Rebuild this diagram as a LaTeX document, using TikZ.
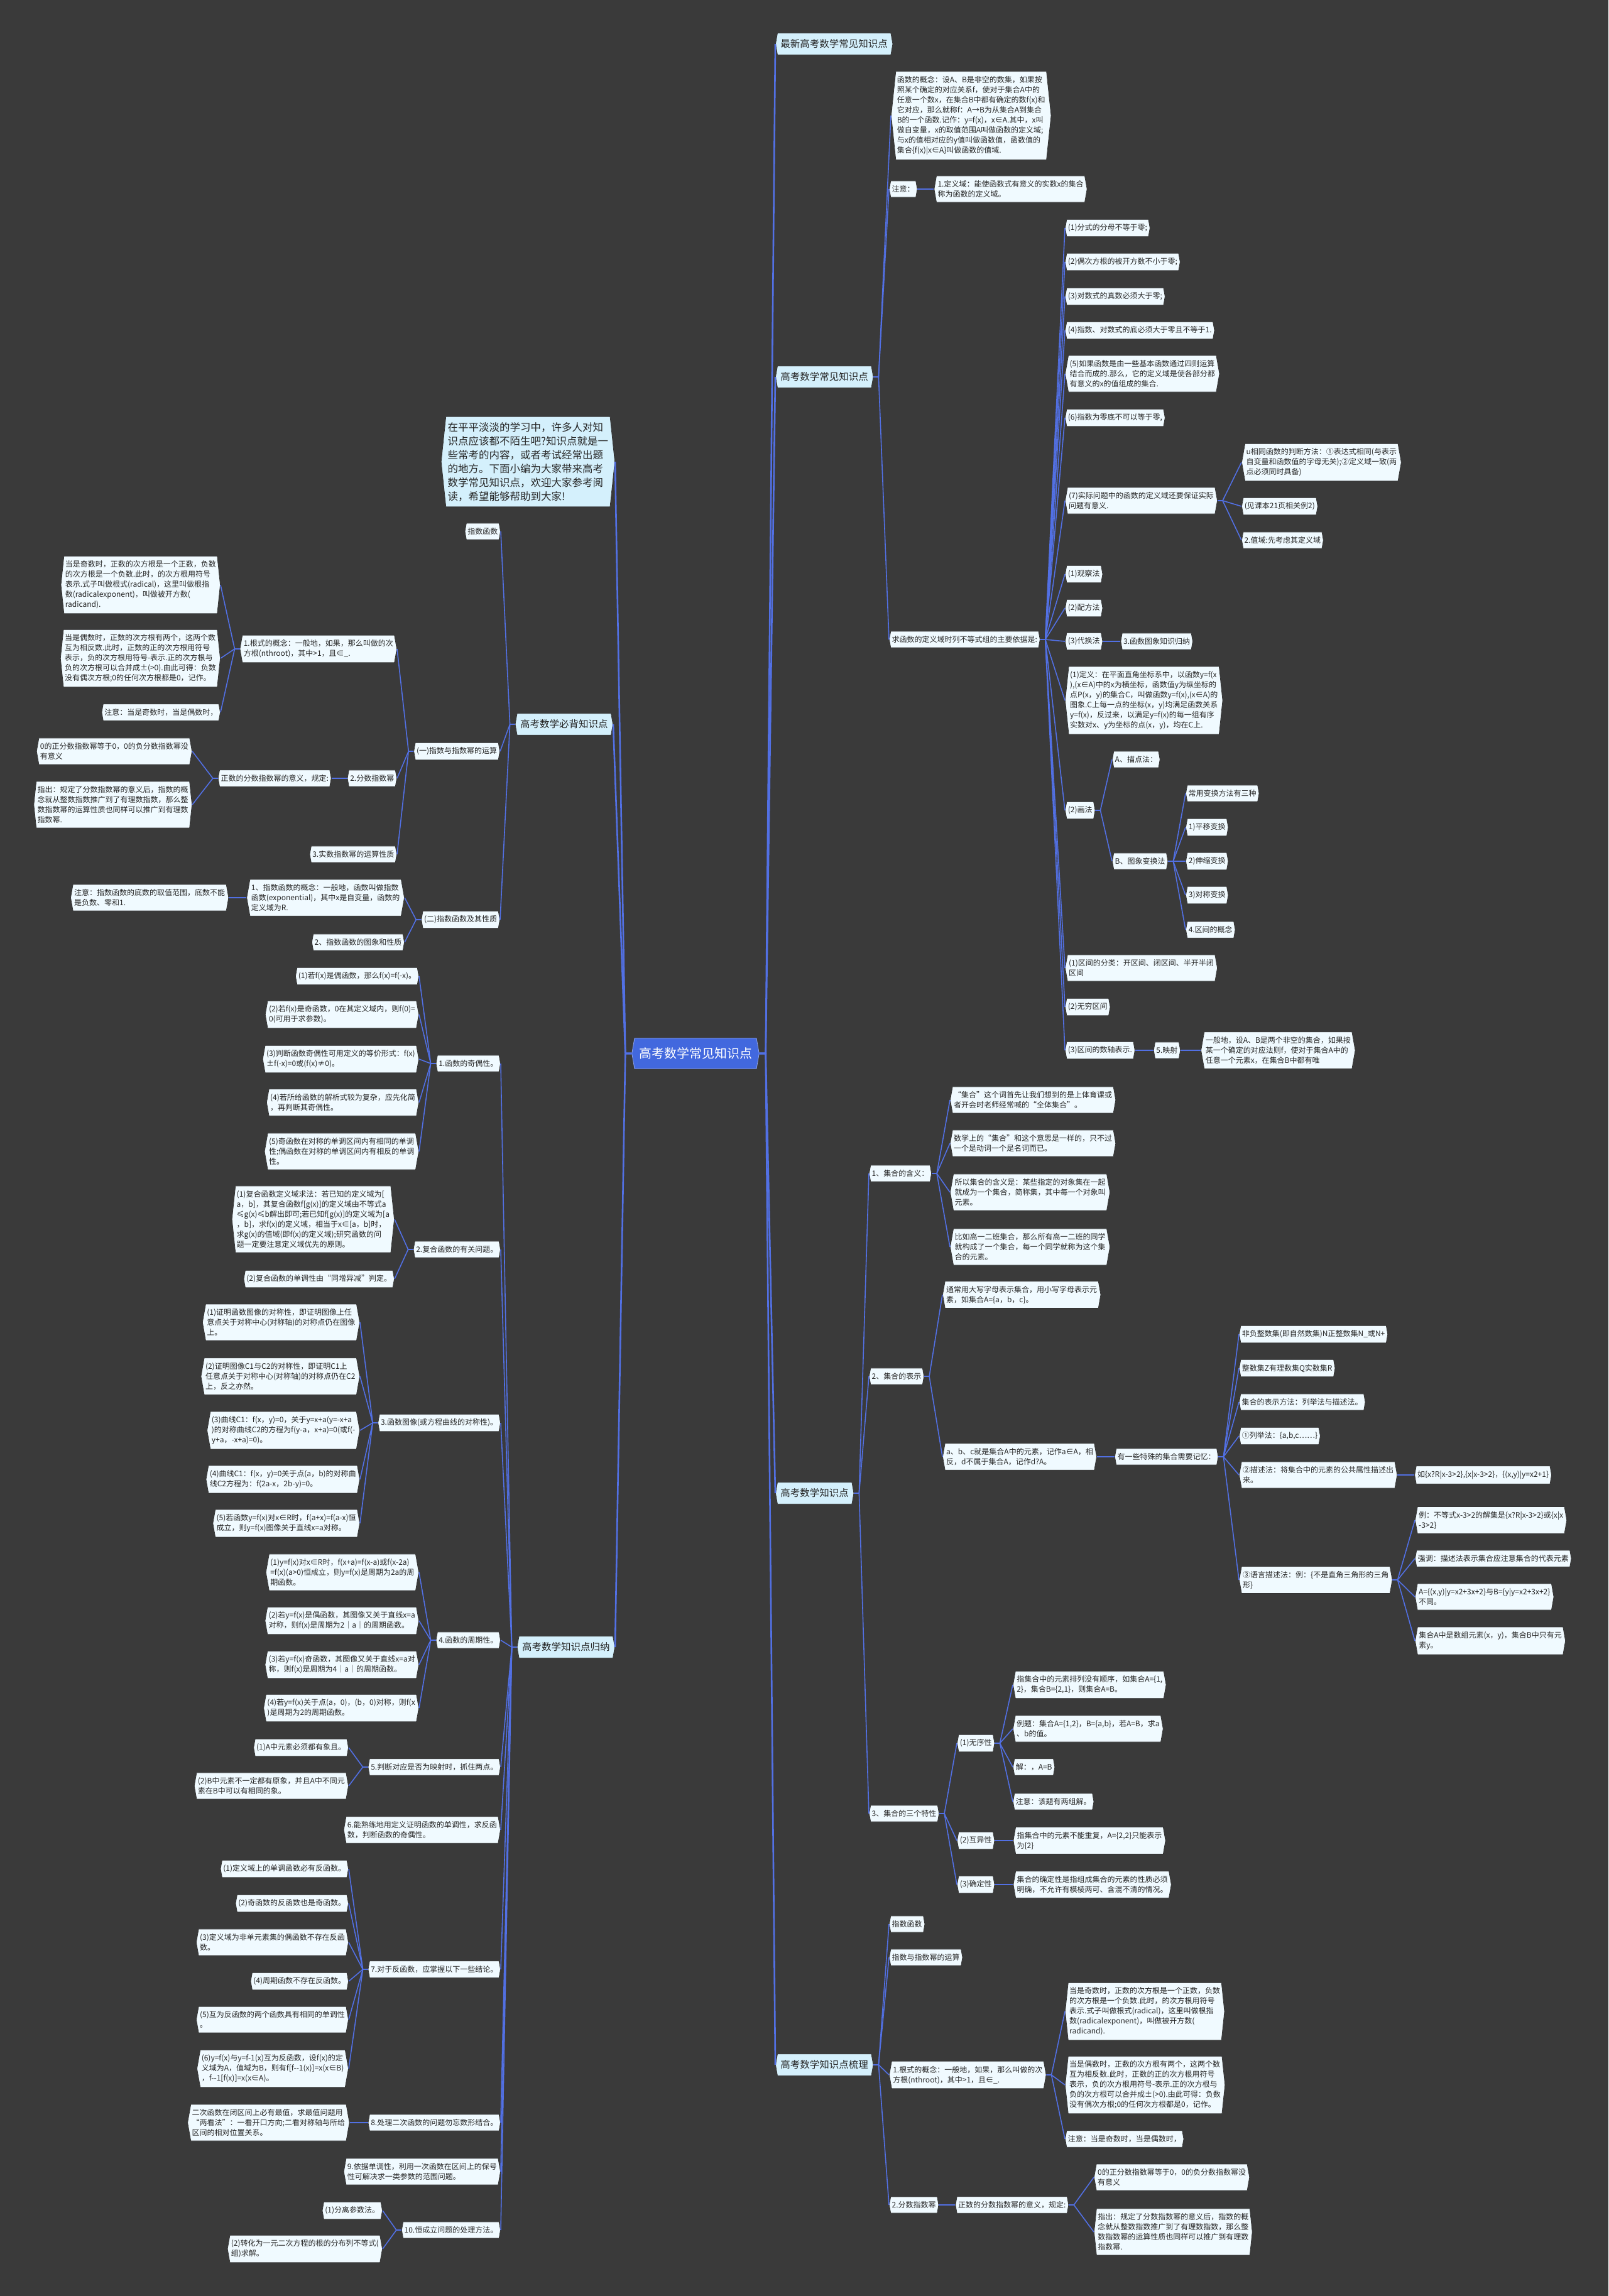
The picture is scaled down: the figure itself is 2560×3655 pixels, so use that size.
\documentclass[tikz,border=0pt]{standalone}
\usepackage{fontspec}
\setmainfont{Noto Sans CJK SC}
\usepackage{xcolor}
\usetikzlibrary{positioning,shapes.symbols}

\definecolor{bgcol}{RGB}{58,58,58}
\definecolor{leafbg}{RGB}{240,250,255}
\definecolor{topicbg}{RGB}{212,240,252}
\definecolor{rootbg}{RGB}{66,104,222}
\definecolor{linkcol}{RGB}{82,112,228}

\tikzset{
  box/.style={signal, signal to=west and east, signal pointer angle=160,
    draw=black!80, line width=0.8pt, align=left},
  leaf/.style={box, fill=leafbg, text=black!85,
    font=\fontsize{12}{16}\selectfont, inner xsep=2pt, inner ysep=7.5pt},
  tall/.style={signal pointer angle=168},
  topic/.style={box, fill=topicbg, text=black!85,
    font=\fontsize{15.5}{20}\selectfont, inner xsep=5pt, inner ysep=10pt},
  root/.style={box, fill=rootbg, text=white, draw=rootbg!60!white,
    font=\fontsize{20}{24}\selectfont, inner xsep=7pt, inner ysep=15pt},
  link/.style={draw=linkcol, line width=1.6pt},
  trunk/.style={draw=linkcol, line width=2.6pt},
}

\begin{document}
\begin{tikzpicture}[x=1pt, y=-1pt]
\fill[bgcol] (0,0) rectangle (2560,3655);

% centre
\node[root] (ctr) at (1107,1677) {高考数学常见知识点};

% ---- right side ----
\node[topic, anchor=west] (rA) at (1234,70) {最新高考数学常见知识点};
\node[topic, anchor=west] (rB) at (1234,600) {高考数学常见知识点};
\node[topic, anchor=west] (rC) at (1234,2377) {高考数学知识点};
\node[topic, anchor=west] (rD) at (1234,3287) {高考数学知识点梳理};

\begin{scope}[every node/.style={leaf, anchor=west}]
% 高考数学常见知识点
\node[tall] (bDef) at (1418,184) {函数的概念：设A、B是非空的数集，如果按\\照某个确定的对应关系f，使对于集合A中的\\任意一个数x，在集合B中都有确定的数f(x)和\\它对应，那么就称f：A→B为从集合A到集合\\B的一个函数.记作：y=f(x)，x∈A.其中，x叫\\做自变量，x的取值范围A叫做函数的定义域;\\与x的值相对应的y值叫做函数值，函数值的\\集合\{f(x)|x∈A\}叫做函数的值域.};
\node (bNote) at (1415,301) {注意：};
\node[right=26pt of bNote] (bNoteA) {1.定义域：能使函数式有意义的实数x的集合\\称为函数的定义域。};
\node (bReq) at (1415,1018) {求函数的定义域时列不等式组的主要依据是:};
\node (bR1) at (1695,363) {(1)分式的分母不等于零;};
\node (bR2) at (1695,417) {(2)偶次方根的被开方数不小于零;};
\node (bR3) at (1695,472) {(3)对数式的真数必须大于零;};
\node (bR4) at (1695,526) {(4)指数、对数式的底必须大于零且不等于1.};
\node (bR5) at (1695,595) {(5)如果函数是由一些基本函数通过四则运算\\结合而成的.那么，它的定义域是使各部分都\\有意义的x的值组成的集合.};
\node (bR6) at (1695,665) {(6)指数为零底不可以等于零,};
\node (bR7) at (1695,797) {(7)实际问题中的函数的定义域还要保证实际\\问题有意义.};
\node (bU) at (1976,736) {u相同函数的判断方法：①表达式相同(与表示\\自变量和函数值的字母无关);②定义域一致(两\\点必须同时具备)};
\node (bEx) at (1976,806) {(见课本21页相关例2)};
\node (bRange) at (1976,860) {2.值域:先考虑其定义域};
\node (bObs) at (1695,914) {(1)观察法};
\node (bSq) at (1695,968) {(2)配方法};
\node (bSub) at (1695,1021) {(3)代换法};
\node[right=28pt of bSub] (bSubA) {3.函数图象知识归纳};
\node[tall] (bGdef) at (1695,1115) {(1)定义：在平面直角坐标系中，以函数y=f(x\\),(x∈A)中的x为横坐标，函数值y为纵坐标的\\点P(x，y)的集合C，叫做函数y=f(x),(x∈A)的\\图象.C上每一点的坐标(x，y)均满足函数关系\\y=f(x)，反过来，以满足y=f(x)的每一组有序\\实数对x、y为坐标的点(x，y)，均在C上.};
\node (bDraw) at (1695,1290) {(2)画法};
\node (bDrawA) at (1770,1209) {A、描点法：};
\node (bDrawB) at (1770,1371) {B、图象变换法};
\node (bT0) at (1887,1263) {常用变换方法有三种};
\node (bT1) at (1887,1317) {1)平移变换};
\node (bT2) at (1887,1371) {2)伸缩变换};
\node (bT3) at (1887,1425) {3)对称变换};
\node (bT4) at (1887,1480) {4.区间的概念};
\node (bIv1) at (1695,1541) {(1)区间的分类：开区间、闭区间、半开半闭\\区间};
\node (bIv2) at (1695,1603) {(2)无穷区间};
\node (bIv3) at (1695,1672) {(3)区间的数轴表示.};
\node[right=29pt of bIv3] (bMap) {5.映射};
\node[right=32pt of bMap] (bMapA) {一般地，设A、B是两个非空的集合，如果按\\某一个确定的对应法则f，使对于集合A中的\\任意一个元素x，在集合B中都有唯};

% 高考数学知识点
\node (cMean) at (1383,1868) {1、集合的含义：};
\node (cM1) at (1512,1751) {“集合”这个词首先让我们想到的是上体育课或\\者开会时老师经常喊的“全体集合”。};
\node (cM2) at (1512,1820) {数学上的“集合”和这个意思是一样的，只不过\\一个是动词一个是名词而已。};
\node (cM3) at (1512,1898) {所以集合的含义是：某些指定的对象集在一起\\就成为一个集合，简称集，其中每一个对象叫\\元素。};
\node (cM4) at (1512,1985) {比如高一二班集合，那么所有高一二班的同学\\就构成了一个集合，每一个同学就称为这个集\\合的元素。};
\node (cRep) at (1383,2191) {2、集合的表示};
\node (cRep1) at (1500,2061) {通常用大写字母表示集合，用小写字母表示元\\素，如集合A=\{a，b，c\}。};
\node (cRep2) at (1500,2319) {a、b、c就是集合A中的元素，记作a∈A，相\\反，d不属于集合A，记作d?A。};
\node[right=28pt of cRep2] (cSpec) {有一些特殊的集合需要记忆：};
\node (cS1) at (1972,2124) {非负整数集(即自然数集)N正整数集N\_或N+};
\node (cS2) at (1972,2178) {整数集Z有理数集Q实数集R};
\node (cS3) at (1972,2232) {集合的表示方法：列举法与描述法。};
\node (cS4) at (1972,2286) {①列举法：\{a,b,c……\}};
\node (cS5) at (1972,2348) {②描述法：将集合中的元素的公共属性描述出\\来。};
\node[right=27pt of cS5] (cS5a) {如\{x?R|x-3>2\},\{x|x-3>2\}，\{(x,y)|y=x2+1\}};
\node (cS6) at (1972,2515) {③语言描述法：例：\{不是直角三角形的三角\\形\}};
\node (cS6a) at (2252,2420) {例：不等式x-3>2的解集是\{x?R|x-3>2\}或\{x|x\\-3>2\}};
\node (cS6b) at (2252,2481) {强调：描述法表示集合应注意集合的代表元素};
\node (cS6c) at (2252,2542) {A=\{(x,y)|y=x2+3x+2\}与B=\{y|y=x2+3x+2\}\\不同。};
\node (cS6d) at (2252,2612) {集合A中是数组元素(x，y)，集合B中只有元\\素y。};
\node (cTri) at (1383,2887) {3、集合的三个特性};
\node (cT1) at (1523,2775) {(1)无序性};
\node (cT1a) at (1612,2682) {指集合中的元素排列没有顺序，如集合A=\{1,\\2\}，集合B=\{2,1\}，则集合A=B。};
\node (cT1b) at (1612,2752) {例题：集合A=\{1,2\}，B=\{a,b\}，若A=B，求a\\、b的值。};
\node (cT1c) at (1612,2813) {解：，A=B};
\node (cT1d) at (1612,2868) {注意：该题有两组解。};
\node (cT2) at (1523,2930) {(2)互异性};
\node[right=29pt of cT2] (cT2a) {指集合中的元素不能重复，A=\{2,2\}只能表示\\为\{2\}};
\node (cT3) at (1523,3000) {(3)确定性};
\node[right=29pt of cT3] (cT3a) {集合的确定性是指组成集合的元素的性质必须\\明确，不允许有模棱两可、含混不清的情况。};

% 高考数学知识点梳理
\node (dExp) at (1415,3063) {指数函数};
\node (dOp) at (1415,3116) {指数与指数幂的运算};
\node (dRoot) at (1415,3303) {1.根式的概念：一般地，如果，那么叫做的次\\方根(nthroot)，其中>1，且∈\_.};
\node[tall] (dRoot1) at (1695,3202) {当是奇数时，正数的次方根是一个正数，负数\\的次方根是一个负数.此时，的次方根用符号\\表示.式子叫做根式(radical)，这里叫做根指\\数(radicalexponent)，叫做被开方数(\\radicand).};
\node[tall] (dRoot2) at (1695,3319) {当是偶数时，正数的次方根有两个，这两个数\\互为相反数.此时，正数的正的次方根用符号\\表示，负的次方根用符号-表示.正的次方根与\\负的次方根可以合并成±(>0).由此可得：负数\\没有偶次方根;0的任何次方根都是0，记作。};
\node (dRoot3) at (1695,3405) {注意：当是奇数时，当是偶数时，};
\node (dFrac) at (1415,3510) {2.分数指数幂};
\node[right=26pt of dFrac] (dFracA) {正数的分数指数幂的意义，规定:};
\node (dFracA1) at (1741,3466) {0的正分数指数幂等于0，0的负分数指数幂没\\有意义};
\node[tall] (dFracA2) at (1741,3553) {指出：规定了分数指数幂的意义后，指数的概\\念就从整数指数推广到了有理数指数，那么整\\数指数幂的运算性质也同样可以推广到有理数\\指数幂.};
\end{scope}

% ---- left side ----
\node[topic, tall, anchor=east, font=\fontsize{16.5}{22}\selectfont, inner xsep=3pt, inner ysep=9pt] (lIntro) at (979,735) {在平平淡淡的学习中，许多人对知\\识点应该都不陌生吧?知识点就是一\\些常考的内容，或者考试经常出题\\的地方。下面小编为大家带来高考\\数学常见知识点，欢迎大家参考阅\\读，希望能够帮助到大家!};
\node[topic, anchor=east] (lA) at (976,1153) {高考数学必背知识点};
\node[topic, anchor=east] (lB) at (979,2622) {高考数学知识点归纳};

\begin{scope}[every node/.style={leaf, anchor=east}]
% 高考数学必背知识点
\node (aExp) at (797,846) {指数函数};
\node (aOp) at (796,1196) {(一)指数与指数幂的运算};
\node (aRoot) at (632,1033) {1.根式的概念：一般地，如果，那么叫做的次\\方根(nthroot)，其中>1，且∈\_.};
\node[tall] (aRoot1) at (351,931) {当是奇数时，正数的次方根是一个正数，负数\\的次方根是一个负数.此时，的次方根用符号\\表示.式子叫做根式(radical)，这里叫做根指\\数(radicalexponent)，叫做被开方数(\\radicand).};
\node[tall] (aRoot2) at (351,1048) {当是偶数时，正数的次方根有两个，这两个数\\互为相反数.此时，正数的正的次方根用符号\\表示，负的次方根用符号-表示.正的次方根与\\负的次方根可以合并成±(>0).由此可得：负数\\没有偶次方根;0的任何次方根都是0，记作。};
\node (aRoot3) at (351,1134) {注意：当是奇数时，当是偶数时，};
\node (aFrac) at (632,1239) {2.分数指数幂};
\node[left=25pt of aFrac] (aFracA) {正数的分数指数幂的意义，规定:};
\node (aFracA1) at (306,1196) {0的正分数指数幂等于0，0的负分数指数幂没\\有意义};
\node[tall] (aFracA2) at (306,1281) {指出：规定了分数指数幂的意义后，指数的概\\念就从整数指数推广到了有理数指数，那么整\\数指数幂的运算性质也同样可以推广到有理数\\指数幂.};
\node (aReal) at (632,1360) {3.实数指数幂的运算性质};
\node (aFun) at (796,1464) {(二)指数函数及其性质};
\node (aFun1) at (644,1429) {1、指数函数的概念：一般地，函数叫做指数\\函数(exponential)，其中x是自变量，函数的\\定义域为R.};
\node[left=28pt of aFun1] (aFun1a) {注意：指数函数的底数的取值范围，底数不能\\是负数、零和1.};
\node (aFun2) at (644,1500) {2、指数函数的图象和性质};

% 高考数学知识点归纳
\node (g1) at (797,1693) {1.函数的奇偶性。};
\node (g1a) at (667,1554) {(1)若f(x)是偶函数，那么f(x)=f(-x)。};
\node (g1b) at (667,1615) {(2)若f(x)是奇函数，0在其定义域内，则f(0)=\\0(可用于求参数)。};
\node (g1c) at (667,1686) {(3)判断函数奇偶性可用定义的等价形式：f(x)\\±f(-x)=0或(f(x)≠0)。};
\node (g1d) at (667,1755) {(4)若所给函数的解析式较为复杂，应先化简\\，再判断其奇偶性。};
\node (g1e) at (667,1833) {(5)奇函数在对称的单调区间内有相同的单调\\性;偶函数在对称的单调区间内有相反的单调\\性。};
\node (g2) at (797,1989) {2.复合函数的有关问题。};
\node[tall] (g2a) at (628,1941) {(1)复合函数定义域求法：若已知的定义域为[\\a，b]，其复合函数f[g(x)]的定义域由不等式a\\≤g(x)≤b解出即可;若已知f[g(x)]的定义域为[a\\，b]，求f(x)的定义域，相当于x∈[a，b]时，\\求g(x)的值域(即f(x)的定义域);研究函数的问\\题一定要注意定义域优先的原则。};
\node (g2b) at (628,2036) {(2)复合函数的单调性由“同增异减”判定。};
\node (g3) at (797,2265) {3.函数图像(或方程曲线的对称性)。};
\node (g3a) at (573,2105) {(1)证明函数图像的对称性，即证明图像上任\\意点关于对称中心(对称轴)的对称点仍在图像\\上。};
\node (g3b) at (573,2191) {(2)证明图像C1与C2的对称性，即证明C1上\\任意点关于对称中心(对称轴)的对称点仍在C2\\上，反之亦然。};
\node (g3c) at (573,2277) {(3)曲线C1：f(x，y)=0，关于y=x+a(y=-x+a\\)的对称曲线C2的方程为f(y-a，x+a)=0(或f(-\\y+a，-x+a)=0)。};
\node (g3d) at (573,2355) {(4)曲线C1：f(x，y)=0关于点(a，b)的对称曲\\线C2方程为：f(2a-x，2b-y)=0。};
\node (g3e) at (573,2425) {(5)若函数y=f(x)对x∈R时，f(a+x)=f(a-x)恒\\成立，则y=f(x)图像关于直线x=a对称。};
\node (g4) at (797,2611) {4.函数的周期性。};
\node (g4a) at (667,2503) {(1)y=f(x)对x∈R时，f(x+a)=f(x-a)或f(x-2a)\\=f(x)(a>0)恒成立，则y=f(x)是周期为2a的周\\期函数。};
\node (g4b) at (667,2580) {(2)若y=f(x)是偶函数，其图像又关于直线x=a\\对称，则f(x)是周期为2｜a｜的周期函数。};
\node (g4c) at (667,2650) {(3)若y=f(x)奇函数，其图像又关于直线x=a对\\称，则f(x)是周期为4｜a｜的周期函数。};
\node (g4d) at (667,2719) {(4)若y=f(x)关于点(a，0)，(b，0)对称，则f(x\\)是周期为2的周期函数。};
\node (g5) at (797,2813) {5.判断对应是否为映射时，抓住两点。};
\node (g5a) at (555,2782) {(1)A中元素必须都有象且。};
\node (g5b) at (555,2843) {(2)B中元素不一定都有原象，并且A中不同元\\素在B中可以有相同的象。};
\node (g6) at (797,2913) {6.能熟练地用定义证明函数的单调性，求反函\\数，判断函数的奇偶性。};
\node (g7) at (797,3135) {7.对于反函数，应掌握以下一些结论。};
\node (g7a) at (555,2975) {(1)定义域上的单调函数必有反函数。};
\node (g7b) at (555,3030) {(2)奇函数的反函数也是奇函数。};
\node (g7c) at (555,3092) {(3)定义域为非单元素集的偶函数不存在反函\\数。};
\node (g7d) at (555,3154) {(4)周期函数不存在反函数。};
\node (g7e) at (555,3215) {(5)互为反函数的两个函数具有相同的单调性\\。};
\node (g7f) at (555,3293) {(6)y=f(x)与y=f-1(x)互为反函数，设f(x)的定\\义域为A，值域为B，则有f[f-{}-1(x)]=x(x∈B)\\，f-{}-1[f(x)]=x(x∈A)。};
\node (g8) at (797,3379) {8.处理二次函数的问题勿忘数形结合。};
\node[left=29pt of g8] (g8a) {二次函数在闭区间上必有最值，求最值问题用\\“两看法”：一看开口方向;二看对称轴与所给\\区间的相对位置关系。};
\node (g9) at (797,3457) {9.依据单调性，利用一次函数在区间上的保号\\性可解决求一类参数的范围问题。};
\node (g10) at (797,3550) {10.恒成立问题的处理方法。};
\node (g10a) at (609,3519) {(1)分离参数法。};
\node (g10b) at (609,3580) {(2)转化为一元二次方程的根的分布列不等式(\\组)求解。};
\end{scope}

% connectors
\foreach \c in {rA,rB,rC,rD}
  \draw[trunk] (ctr.east) -- ++(10,0) -- (\c.west);
\foreach \c in {lIntro,lA,lB}
  \draw[trunk] (ctr.west) -- ++(-10,0) -- (\c.east);

\foreach \p/\cs in {rB/{bDef,bNote,bReq}, bNote/{bNoteA},
    bReq/{bR1,bR2,bR3,bR4,bR5,bR6,bR7,bObs,bSq,bSub,bGdef,bDraw,bIv1,bIv2,bIv3},
    bR7/{bU,bEx,bRange}, bSub/{bSubA}, bDraw/{bDrawA,bDrawB},
    bDrawB/{bT0,bT1,bT2,bT3,bT4}, bIv3/{bMap}, bMap/{bMapA},
    rC/{cMean,cRep,cTri}, cMean/{cM1,cM2,cM3,cM4}, cRep/{cRep1,cRep2},
    cRep2/{cSpec}, cSpec/{cS1,cS2,cS3,cS4,cS5,cS6}, cS5/{cS5a},
    cS6/{cS6a,cS6b,cS6c,cS6d}, cTri/{cT1,cT2,cT3},
    cT1/{cT1a,cT1b,cT1c,cT1d}, cT2/{cT2a}, cT3/{cT3a},
    rD/{dExp,dOp,dRoot,dFrac}, dRoot/{dRoot1,dRoot2,dRoot3},
    dFrac/{dFracA}, dFracA/{dFracA1,dFracA2}}
  \foreach \c in \cs
    \draw[link] (\p.east) -- ++(8,0) -- (\c.west);

\foreach \p/\cs in {lA/{aExp,aOp,aFun}, aOp/{aRoot,aFrac,aReal},
    aRoot/{aRoot1,aRoot2,aRoot3}, aFrac/{aFracA}, aFracA/{aFracA1,aFracA2},
    aFun/{aFun1,aFun2}, aFun1/{aFun1a},
    lB/{g1,g2,g3,g4,g5,g6,g7,g8,g9,g10}, g1/{g1a,g1b,g1c,g1d,g1e},
    g2/{g2a,g2b}, g3/{g3a,g3b,g3c,g3d,g3e}, g4/{g4a,g4b,g4c,g4d},
    g5/{g5a,g5b}, g7/{g7a,g7b,g7c,g7d,g7e,g7f}, g8/{g8a}, g10/{g10a,g10b}}
  \foreach \c in \cs
    \draw[link] (\p.west) -- ++(-8,0) -- (\c.east);
\end{tikzpicture}
\end{document}
